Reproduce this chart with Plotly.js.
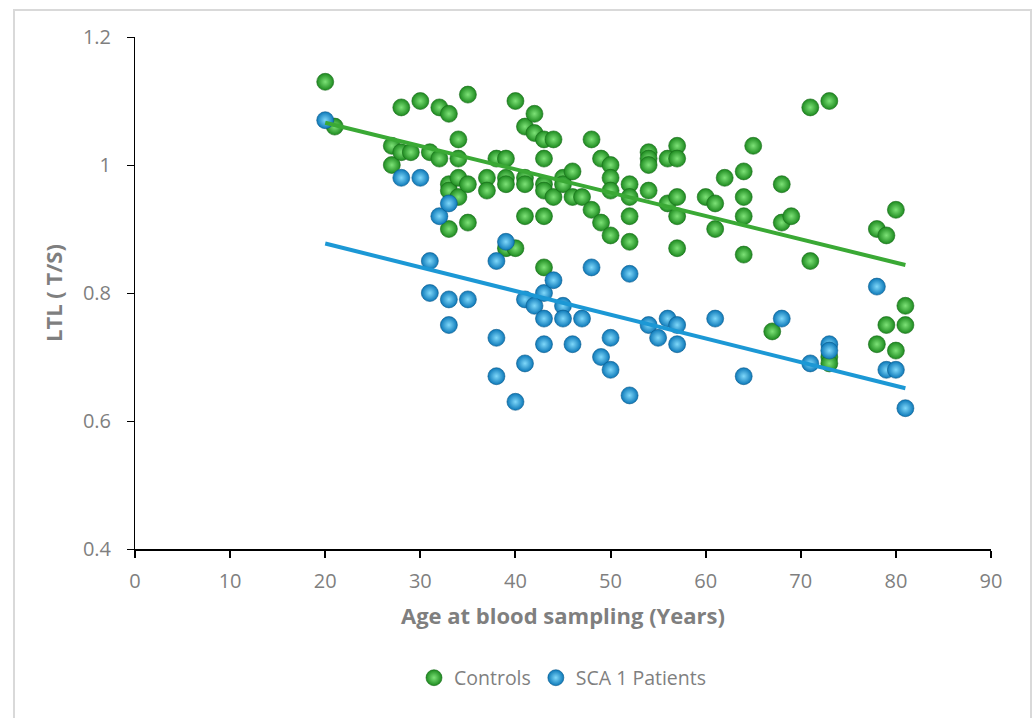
<!DOCTYPE html>
<html>
<head>
<meta charset="utf-8">
<script src="https://cdn.plot.ly/plotly-3.0.1.min.js"></script>
<style>
html,body{margin:0;padding:0;background:#fff;}
#frame{position:absolute;left:13px;top:9px;width:1019px;height:720px;border:2px solid #d9d9d9;box-sizing:border-box;pointer-events:none;z-index:5;}
#chart{width:1035px;height:718px;}
</style>
</head>
<body>
<div id="frame"></div>
<div id="chart"></div>
<script>
// Controls
const controlsAge = [20,21,27,27,28,28,29,30,31,32,32,33,33,33,33,34,34,34,34,35,35,35,37,37,38,39,39,39,39,40,40,41,41,41,41,42,42,43,43,43,43,43,43,44,44,45,45,46,46,47,48,48,49,49,50,50,50,50,52,52,52,52,54,54,54,54,56,56,57,57,57,57,57,60,61,61,62,64,64,64,64,65,67,68,68,69,71,71,73,73,73,78,78,79,79,80,80,81,81];
const controlsLTL = [1.13,1.06,1.00,1.03,1.09,1.02,1.02,1.10,1.02,1.09,1.01,1.08,0.97,0.96,0.90,1.04,1.01,0.98,0.95,1.11,0.97,0.91,0.98,0.96,1.01,1.01,0.98,0.97,0.87,1.10,0.87,1.06,0.98,0.97,0.92,1.08,1.05,1.04,1.01,0.97,0.96,0.92,0.84,1.04,0.95,0.98,0.97,0.99,0.95,0.95,1.04,0.93,1.01,0.91,1.00,0.98,0.96,0.89,0.97,0.95,0.92,0.88,1.02,1.01,1.00,0.96,1.01,0.94,1.03,1.01,0.95,0.92,0.87,0.95,0.94,0.90,0.98,0.99,0.95,0.92,0.86,1.03,0.74,0.97,0.91,0.92,1.09,0.85,1.10,0.70,0.69,0.90,0.72,0.89,0.75,0.93,0.71,0.78,0.75];
// SCA 1 Patients
const patientsAge = [20,28,30,31,31,32,33,33,33,35,38,38,38,39,40,41,41,42,43,43,43,44,45,45,46,47,48,49,50,50,52,52,54,55,56,57,57,61,64,68,71,73,73,78,79,80,81];
const patientsLTL = [1.07,0.98,0.98,0.85,0.80,0.92,0.94,0.79,0.75,0.79,0.85,0.73,0.67,0.88,0.63,0.79,0.69,0.78,0.80,0.76,0.72,0.82,0.78,0.76,0.72,0.76,0.84,0.70,0.73,0.68,0.83,0.64,0.75,0.73,0.76,0.75,0.72,0.76,0.67,0.76,0.69,0.72,0.71,0.81,0.68,0.68,0.62];

const seriesNames = ['Controls','SCA 1 Patients'];
const xTicks = [0,10,20,30,40,50,60,70,80,90];
const yTicks = [0.4,0.6,0.8,1.0,1.2];
const yTickText = ['0.4','0.6','0.8','1','1.2'];

function linfit(xs, ys){
  const n = xs.length;
  let sx=0, sy=0, sxx=0, sxy=0;
  for(let i=0;i<n;i++){sx+=xs[i];sy+=ys[i];sxx+=xs[i]*xs[i];sxy+=xs[i]*ys[i];}
  const b = (n*sxy - sx*sy)/(n*sxx - sx*sx);
  const a = (sy - b*sx)/n;
  const x0 = Math.min(...xs), x1 = Math.max(...xs);
  return {x:[x0,x1], y:[a+b*x0, a+b*x1]};
}
const gFit = linfit(controlsAge, controlsLTL);
const bFit = linfit(patientsAge, patientsLTL);

// radial gradient: gradient.color is the centre colour, marker.color the rim
const green = {rim:'#1d8a1f', centre:'#7de277', l:'#176a19', line:'#3aa935'};
const blue  = {rim:'#0c78b8', centre:'#7fd8fa', l:'#0b5a8c', line:'#1c98d5'};

const traces = [
  {x:controlsAge, y:controlsLTL, name:seriesNames[0], type:'scatter', mode:'markers',
   marker:{size:17, color:green.rim, gradient:{type:'radial', color:green.centre}, line:{color:green.l, width:0.6}}},
  {x:patientsAge, y:patientsLTL, name:seriesNames[1], type:'scatter', mode:'markers',
   marker:{size:17, color:blue.rim, gradient:{type:'radial', color:blue.centre}, line:{color:blue.l, width:0.6}}},
  {x:gFit.x, y:gFit.y, type:'scatter', mode:'lines', showlegend:false, line:{color:green.line, width:4}, hoverinfo:'skip'},
  {x:bFit.x, y:bFit.y, type:'scatter', mode:'lines', showlegend:false, line:{color:blue.line, width:4}, hoverinfo:'skip'}
];

const font = "'Open Sans', 'Noto Sans', sans-serif";
const layout = {
  width:1035, height:718,
  margin:{l:135, r:44, t:37, b:169},
  paper_bgcolor:'#fff', plot_bgcolor:'#fff',
  showlegend:true,
  font:{family:font, color:'#7f7f7f', size:16},
  xaxis:{range:[0,90], tickvals:xTicks, showgrid:false, zeroline:false,
    showline:true, linecolor:'#000', linewidth:2, ticks:'outside', ticklen:7, tickwidth:2, tickcolor:'#000',
    ticklabelstandoff:6,
    tickfont:{size:20, color:'#7f7f7f', family:font},
    title:{text:'<b>Age at blood sampling (Years)</b>', font:{size:22, color:'#7f7f7f', family:font}, standoff:16}},
  yaxis:{range:[0.4,1.2], tickvals:yTicks, ticktext:yTickText, showgrid:false, zeroline:false,
    showline:true, linecolor:'#000', linewidth:1, ticks:'outside', ticklen:7, tickwidth:1, tickcolor:'#000',
    ticklabelstandoff:12,
    tickfont:{size:20, color:'#7f7f7f', family:font},
    title:{text:'<b>LTL ( T/S)</b>', font:{size:22, color:'#7f7f7f', family:font}, standoff:14}},
  legend:{orientation:'h', x:0.5, xanchor:'center', y:-0.252, yanchor:'middle',
    font:{size:19.5, color:'#7f7f7f', family:font}, itemsizing:'trace', tracegroupgap:0, itemwidth:30},
  hovermode:false
};

Plotly.newPlot('chart', traces, layout, {displayModeBar:false, staticPlot:true});
</script>
</body>
</html>
